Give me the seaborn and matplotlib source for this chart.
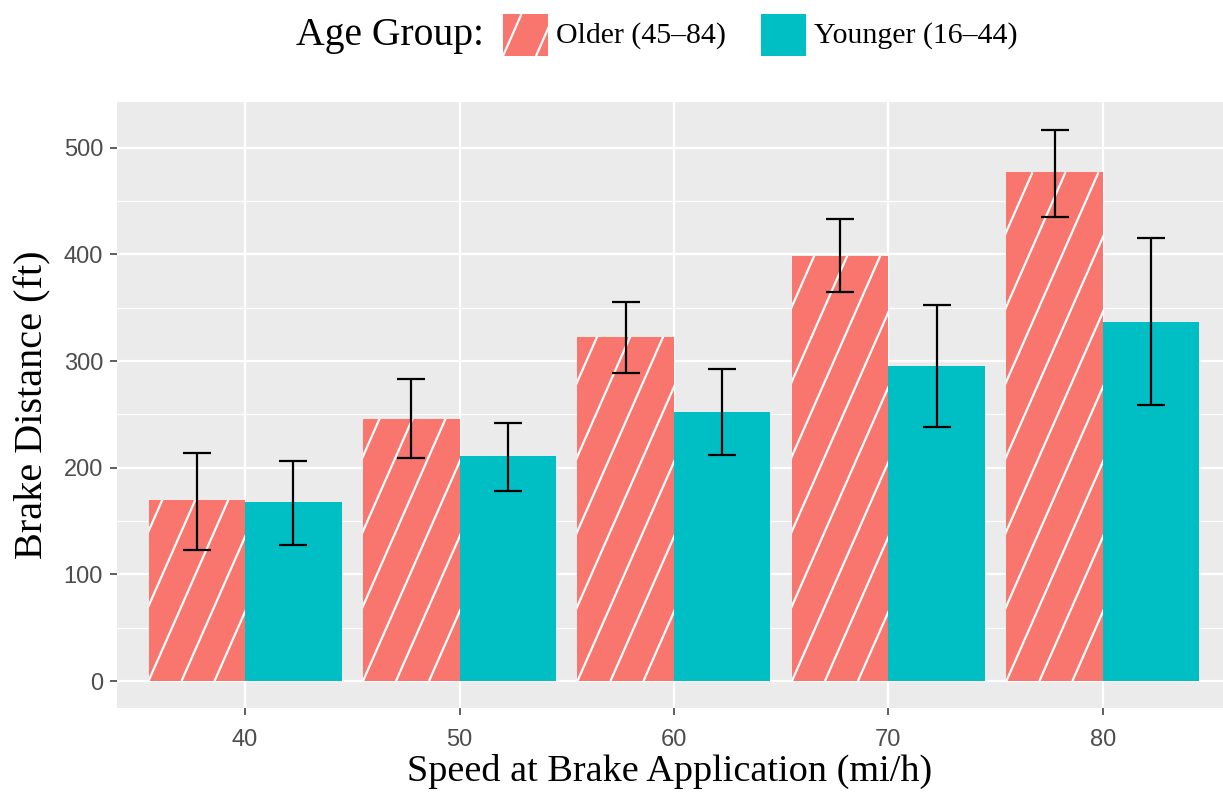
import numpy as np
import pandas as pd
import matplotlib
matplotlib.use("Agg")
import matplotlib.pyplot as plt
from matplotlib.patches import Rectangle
from matplotlib.lines import Line2D
import seaborn as sns

# Braking distance by speed and driver age group
speeds = [40, 50, 60, 70, 80]
groups = ["Older (45\u201384)", "Younger (16\u201344)"]
older_mean = [170, 246, 323, 399, 477]
older_lo = [123, 209, 289, 365, 435]
older_hi = [214, 283, 355, 433, 517]
younger_mean = [168, 211, 252, 295, 337]
younger_lo = [128, 178, 212, 238, 259]
younger_hi = [206, 242, 293, 353, 415]
y_ticks = [0, 100, 200, 300, 400, 500]

colors = {groups[0]: "#F8766D", groups[1]: "#00BFC4"}

df = pd.DataFrame({
    "speed": speeds * 2,
    "distance": older_mean + younger_mean,
    "lo": older_lo + younger_lo,
    "hi": older_hi + younger_hi,
    "group": [groups[0]] * len(speeds) + [groups[1]] * len(speeds),
})

W, H = 1223, 796
sns.set_theme(style="darkgrid")
serif = ["Liberation Serif", "DejaVu Serif"]
tick_font = ["Liberation Sans", "DejaVu Sans"]

fig = plt.figure(figsize=(W / 100, H / 100), dpi=100)
fig.patch.set_facecolor("white")
ax = fig.add_axes([117 / W, 1 - 708 / H, (W - 117) / W, (708 - 102) / H])

sns.barplot(data=df, x="speed", y="distance", hue="group", hue_order=groups,
            palette=colors, native_scale=True, errorbar=None, width=0.9,
            saturation=1, legend=False, linewidth=0, ax=ax, zorder=2)

ax.set_xlim(34.03, 85.6)
ax.set_ylim(-25.3, 543)
ax.set_facecolor("#EBEBEB")
for s in ax.spines.values():
    s.set_visible(False)

ax.set_xticks(speeds)
ax.set_yticks(y_ticks)
ax.set_yticks([50, 150, 250, 350, 450], minor=True)
ax.grid(which="major", color="white", linewidth=1.6, zorder=0)
ax.grid(which="minor", axis="y", color="white", linewidth=0.8, zorder=0)
ax.grid(which="minor", axis="x", visible=False)
ax.set_axisbelow(True)
ax.tick_params(axis="both", which="major", direction="out", length=5, width=1.1,
               color="#333333", labelcolor="#4D4D4D", labelsize=17,
               bottom=True, left=True)
ax.tick_params(axis="x", which="major", pad=10)
ax.tick_params(axis="y", which="major", pad=5)
ax.tick_params(axis="both", which="minor", length=0)
for lab in ax.get_xticklabels() + ax.get_yticklabels():
    lab.set_family(tick_font)

ax.set_xlabel("Speed at Brake Application (mi/h)", fontsize=27.5, family=serif,
              color="black", labelpad=2)
ax.set_ylabel("Brake Distance (ft)", fontsize=29, family=serif,
              color="black", labelpad=9)

# error bars centred on each drawn bar
for cont, g in zip(ax.containers, groups):
    sub = df[df["group"] == g]
    xs = [p.get_x() + p.get_width() / 2 for p in cont.patches]
    m = sub["distance"].to_numpy()
    err = [m - sub["lo"].to_numpy(), sub["hi"].to_numpy() - m]
    ax.errorbar(xs, m, yerr=err, fmt="none", ecolor="black", elinewidth=1.6,
                capsize=10, capthick=1.6, zorder=4)

# steep white stripes on the older group's bars
SPACING = 33.0
SLOPE = 2.27
inv = ax.transData.inverted()


def stripe(rect_disp, clip, transform_to, parent, lw=1.6):
    (x0, y0), (x1, y1) = rect_disp
    h = y1 - y0
    dx_span = h / SLOPE
    back = np.arange(x0 - SPACING, x0 - dx_span - SPACING, -SPACING)[::-1]
    fwd = np.arange(x0, x1 + SPACING, SPACING)
    for xb in np.concatenate([back, fwd]):
        pts = np.array([[xb, y0], [xb + dx_span, y1]])
        pts = transform_to(pts)
        ln = Line2D(pts[:, 0], pts[:, 1], color="white", linewidth=lw,
                    zorder=3, solid_capstyle="butt")
        parent(ln)
        ln.set_clip_path(clip)


for p in ax.containers[0].patches:
    bb = ax.transData.transform([(p.get_x(), 0), (p.get_x() + p.get_width(), p.get_height())])
    stripe(bb, p, inv.transform, ax.add_line)

# legend across the top
def fx(x):
    return x / W


def fy(y):
    return 1 - y / H


fig.text(fx(296), fy(36), "Age Group:", family=serif, fontsize=28.5,
         color="black", va="center", ha="left")
key_h = 42
for gx, tx, g in [(503, 556, groups[0]), (761, 814, groups[1])]:
    r = Rectangle((fx(gx), fy(56)), 45 / W, key_h / H, transform=fig.transFigure,
                  facecolor=colors[g], edgecolor="none")
    fig.add_artist(r)
    fig.text(fx(tx), fy(36), g, family=serif, fontsize=21.5, color="black",
             va="center", ha="left")
    if g == groups[0]:
        bb = np.array([[gx, H - 56], [gx + 45, H - 14]], dtype=float)
        stripe(bb, r, fig.transFigure.inverted().transform, fig.add_artist)

fig.savefig("out.png", dpi=100, facecolor="white")
